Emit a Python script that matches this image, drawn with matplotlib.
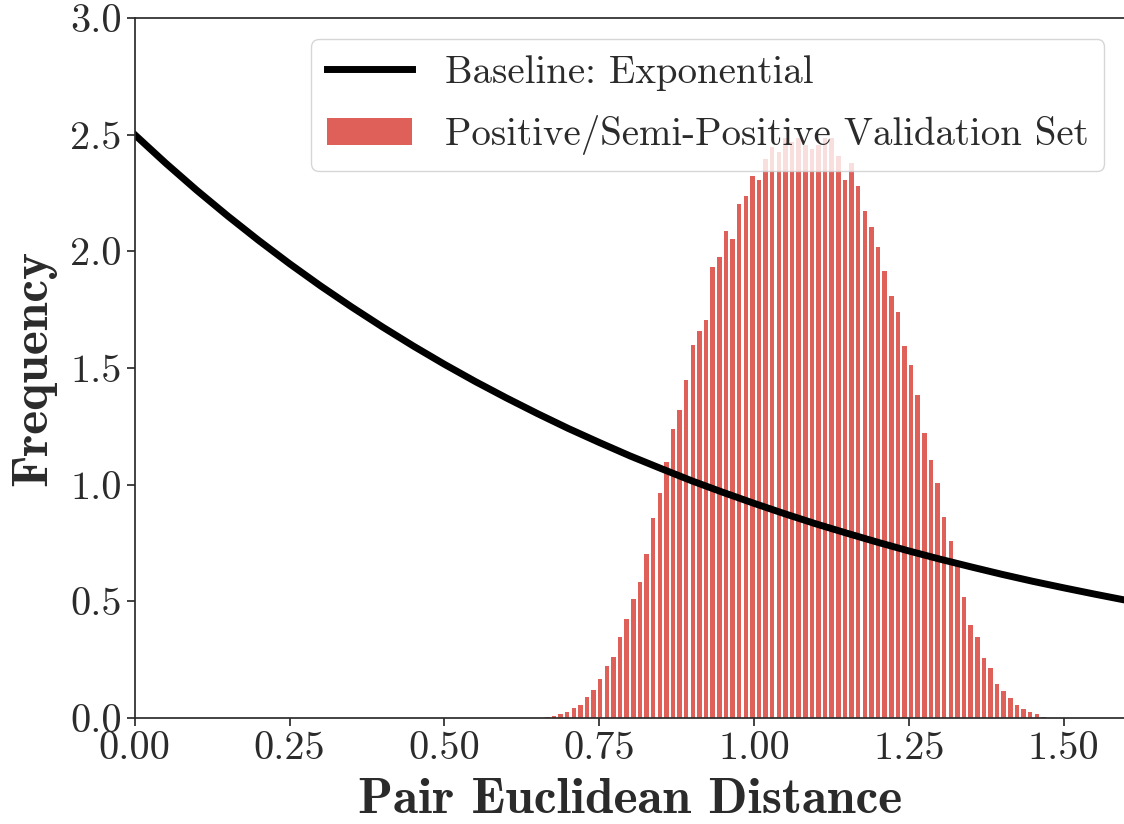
import matplotlib
matplotlib.use('Agg')
import matplotlib.pyplot as plt
import numpy as np

# histogram of pair distances (density), left to right
BIN_START = 0.6608
BIN_WIDTH = 0.01068
freq = [
    0.006, 0.009, 0.019, 0.024, 0.044, 0.058, 0.092, 0.122, 0.169, 0.225,
    0.262, 0.348, 0.423, 0.512, 0.581, 0.703, 0.858, 0.963, 1.099, 1.238,
    1.321, 1.450, 1.597, 1.660, 1.707, 1.932, 1.974, 2.088, 2.051, 2.205,
    2.238, 2.322, 2.308, 2.397, 2.448, 2.424, 2.487, 2.467, 2.487, 2.458,
    2.438, 2.455, 2.487, 2.487, 2.410, 2.305, 2.377, 2.279, 2.171, 2.104,
    2.018, 1.918, 1.808, 1.739, 1.593, 1.511, 1.386, 1.220, 1.108, 1.006,
    0.862, 0.757, 0.660, 0.520, 0.400, 0.349, 0.258, 0.215, 0.147, 0.118,
    0.088, 0.058, 0.039, 0.027, 0.016, 0.006,
]

# baseline curve, sampled every 0.05
base_x = [0.00, 0.05, 0.10, 0.15, 0.20, 0.25, 0.30, 0.35, 0.40, 0.45, 0.50,
          0.55, 0.60, 0.65, 0.70, 0.75, 0.80, 0.85, 0.90, 0.95, 1.00, 1.05,
          1.10, 1.15, 1.20, 1.25, 1.30, 1.35, 1.40, 1.45, 1.50, 1.55, 1.60]
base_y = [2.500, 2.378, 2.262, 2.152, 2.047, 1.947, 1.852, 1.762, 1.676, 1.594,
          1.516, 1.442, 1.372, 1.305, 1.241, 1.181, 1.123, 1.069, 1.016, 0.967,
          0.920, 0.875, 0.832, 0.792, 0.753, 0.716, 0.681, 0.648, 0.616, 0.586,
          0.558, 0.531, 0.505]

x_ticks = [0.00, 0.25, 0.50, 0.75, 1.00, 1.25, 1.50]
y_ticks = [0.0, 0.5, 1.0, 1.5, 2.0, 2.5, 3.0]

TEXT = '#2b2b2b'
plt.rcParams['font.family'] = ['cmr10', 'DejaVu Serif']
plt.rcParams['axes.formatter.use_mathtext'] = True

fig = plt.figure(figsize=(11.24, 8.24), dpi=100)
ax = fig.add_axes([0.1199, 0.1286, 0.8816, 0.8495])

edges = BIN_START + BIN_WIDTH * np.arange(len(freq) + 1)
ax.hist(edges[:-1], bins=edges, weights=freq, rwidth=0.68,
        color='#de6058', label='Positive/Semi-Positive Validation Set')
ax.plot(base_x, base_y, color='black', linewidth=5,
        label='Baseline: Exponential')

ax.set_xlim(0, 1.6)
ax.set_ylim(0, 3.0)
ax.set_xticks(x_ticks)
ax.set_xticklabels([f'{v:.2f}' for v in x_ticks])
ax.set_yticks(y_ticks)
ax.set_yticklabels([f'{v:.1f}' for v in y_ticks])
ax.tick_params(labelsize=29, colors=TEXT, length=6, width=1.25, direction='out')
for s in ax.spines.values():
    s.set_color(TEXT)
    s.set_linewidth(1.25)

ax.set_xlabel('Pair Euclidean Distance', fontsize=37, family='cmb10',
              color=TEXT, labelpad=8)
ax.set_ylabel('Frequency', fontsize=37, family='cmb10', color=TEXT,
              labelpad=10)

handles, labels = ax.get_legend_handles_labels()
leg = ax.legend(handles[::-1], labels[::-1], loc='upper right', fontsize=28,
                framealpha=0.8, edgecolor='#cccccc', fancybox=True,
                labelspacing=0.62, handlelength=2.2, handletextpad=0.85,
                borderaxespad=0.55)
for t in leg.get_texts():
    t.set_color(TEXT)

plt.savefig('out.png', dpi=100)
plt.close()
